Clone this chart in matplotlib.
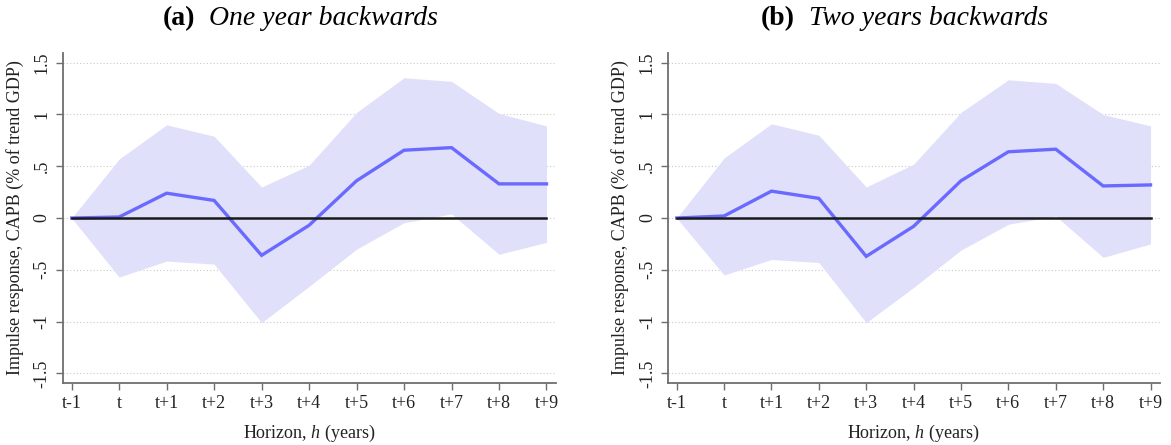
import matplotlib
matplotlib.use('Agg')
import matplotlib.pyplot as plt

plt.rcParams['font.family'] = ['Liberation Serif', 'DejaVu Serif']
plt.rcParams['mathtext.fontset'] = 'custom'
plt.rcParams['mathtext.it'] = 'Liberation Serif:italic'
plt.rcParams['mathtext.rm'] = 'Liberation Serif'

# horizons t-1 ... t+9
horizon = list(range(11))
xlabels = ['t-1', 't', 't+1', 't+2', 't+3', 't+4', 't+5', 't+6', 't+7', 't+8', 't+9']
yticks = [-1.5, -1, -0.5, 0, 0.5, 1, 1.5]
ylabels = ['-1.5', '-1', '-.5', '0', '.5', '1', '1.5']

# panel a: one year backwards
irf_a = [0, 0.01, 0.24, 0.17, -0.36, -0.07, 0.36, 0.655, 0.68, 0.33, 0.33]
hi_a = [0, 0.57, 0.90, 0.79, 0.30, 0.51, 1.02, 1.355, 1.32, 1.01, 0.89]
lo_a = [0, -0.57, -0.415, -0.445, -1.01, -0.66, -0.30, -0.045, 0.04, -0.35, -0.235]

# panel b: two years backwards
irf_b = [0, 0.02, 0.26, 0.19, -0.37, -0.08, 0.36, 0.64, 0.665, 0.31, 0.32]
hi_b = [0, 0.58, 0.91, 0.80, 0.30, 0.52, 1.02, 1.335, 1.30, 1.00, 0.89]
lo_b = [0, -0.55, -0.40, -0.43, -1.01, -0.67, -0.31, -0.06, 0.02, -0.38, -0.25]

panels = [
    ('(a)', 'One year backwards', irf_a, hi_a, lo_a),
    ('(b)', 'Two years backwards', irf_b, hi_b, lo_b),
]

fig = plt.figure(figsize=(11.71, 4.45), dpi=100)
positions = [[0.0535, 0.140, 0.4213, 0.740], [0.5702, 0.140, 0.4204, 0.740]]
title_x = [0.139, 0.650]

for pos, tx, (tag, name, irf, hi, lo) in zip(positions, title_x, panels):
    ax = fig.add_axes(pos)
    ax.fill_between(horizon, lo, hi, color='#e0e0fb', lw=0, zorder=1)
    ax.plot(horizon, irf, color='#6a6aff', lw=2.4, zorder=2, solid_joinstyle='miter')
    ax.plot([horizon[0], horizon[-1]], [0, 0], color='#1a1a1a', lw=1.8, zorder=3)

    ax.set_xlim(-0.19, 10.2)
    ax.set_ylim(-1.59, 1.59)
    ax.set_yticks(yticks)
    ax.set_yticklabels(ylabels, rotation=90, va='center')
    ax.set_xticks(horizon)
    ax.set_xticklabels(xlabels)
    for y in yticks:
        ax.axhline(y, color='#c8c8c8', lw=0.8, ls=(0, (1, 2)), zorder=0)

    for s in ['top', 'right']:
        ax.spines[s].set_visible(False)
    for s in ['left', 'bottom']:
        ax.spines[s].set_color('#6e6e6e')
        ax.spines[s].set_linewidth(1.3)
    ax.tick_params(axis='both', colors='#6e6e6e', labelcolor='#222222', labelsize=13, width=1.0, length=5)

    ax.set_ylabel('Impulse response, CAPB (% of trend GDP)', fontsize=13, color='#222222', labelpad=7)
    ax.set_xlabel('Horizon, $h$ (years)', fontsize=13, color='#222222', labelpad=8)

    t = fig.text(tx, 0.958, tag, fontsize=20, fontweight='bold', ha='left', va='center')
    ax.annotate(name, xy=(1, 0.5), xycoords=t, xytext=(10, 0), textcoords='offset points',
                fontsize=20, style='italic', ha='left', va='center', annotation_clip=False)

fig.savefig('out.png', dpi=100)
